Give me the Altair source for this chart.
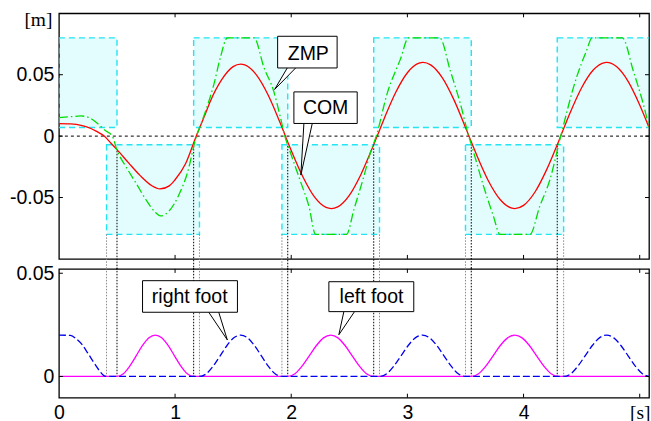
import altair as alt
import pandas as pd

# ---------------- data ----------------
# centre of mass (red) [s], [m]
COM_T = [0.00, 0.10, 0.20, 0.275, 0.32, 0.39, 0.45, 0.50, 0.60, 0.70, 0.80, 0.87, 0.95, 1.00,
         1.09, 1.18, 1.26, 1.30, 1.40, 1.50, 1.565, 1.60, 1.70, 1.80, 1.90, 1.95, 2.00, 2.10,
         2.20, 2.30, 2.345, 2.40, 2.50, 2.60, 2.70, 2.74, 2.80, 2.90, 3.00, 3.10, 3.135, 3.20,
         3.30, 3.40, 3.50, 3.53, 3.60, 3.70, 3.80, 3.90, 3.925, 4.00, 4.10, 4.20, 4.30, 4.32,
         4.40, 4.50, 4.60, 4.70, 4.715, 4.80, 4.90, 5.00, 5.08]
COM_Y = [0.0102, 0.0100, 0.0086, 0.0062, 0.0041, 0.0000, -0.0060, -0.0110, -0.0218, -0.0322,
         -0.0404, -0.0430, -0.0405, -0.0355, -0.0225, -0.0005, 0.0180, 0.0276, 0.0458, 0.0566,
         0.0586, 0.0580, 0.0499, 0.0337, 0.0119, 0.0000, -0.0117, -0.0331, -0.0495, -0.0581,
         -0.0590, -0.0576, -0.0482, -0.0312, -0.0093, 0.0000, 0.0142, 0.0357, 0.0516, 0.0594,
         0.0600, 0.0580, 0.0476, 0.0297, 0.0071, 0.0000, -0.0162, -0.0369, -0.0518, -0.0587,
         -0.0590, -0.0564, -0.0453, -0.0271, -0.0047, 0.0000, 0.0188, 0.0394, 0.0538, 0.0599,
         0.0600, 0.0566, 0.0446, 0.0254, 0.0071]

# zero moment point (green)
ZMP_T = [0.00, 0.10, 0.19, 0.26, 0.33, 0.40, 0.46, 0.50, 0.576, 0.662, 0.748, 0.834, 0.876,
         0.948, 1.034, 1.106, 1.178, 1.235, 1.335, 1.39, 1.45, 1.68, 1.765, 1.851, 1.90, 1.945,
         1.995, 2.08, 2.152, 2.21, 2.476, 2.54, 2.625, 2.68, 2.735, 2.825, 2.94, 3.01, 3.278,
         3.37, 3.456, 3.528, 3.556, 3.656, 3.74, 3.797, 4.055, 4.14, 4.227, 4.32, 4.456, 4.54,
         4.59, 4.85, 4.945, 5.03, 5.08]
ZMP_Y = [0.0151, 0.0158, 0.0164, 0.0150, 0.0105, 0.0045, 0.0000, -0.0115, -0.0247, -0.0380,
         -0.0516, -0.0624, -0.0650, -0.0610, -0.0476, -0.0300, -0.0020, 0.0129, 0.0425, 0.0640,
         0.0800, 0.0800, 0.0559, 0.0360, 0.0180, 0.0000, -0.0140, -0.0370, -0.0570, -0.0800,
         -0.0800, -0.0597, -0.0328, -0.0140, 0.0010, 0.0344, 0.0627, 0.0800, 0.0800, 0.0530,
         0.0264, 0.0000, -0.0086, -0.0409, -0.0650, -0.0800, -0.0800, -0.0570, -0.0355, 0.0000,
         0.0478, 0.0690, 0.0800, 0.0800, 0.0530, 0.0264, 0.0075]

# support polygons (cyan boxes)
RECT_T0 = [0.00, 0.41, 1.16, 1.92, 2.71, 3.50, 4.29]
RECT_T1 = [0.50, 1.21, 1.97, 2.76, 3.55, 4.345, 5.30]
RECT_V0 = [0.007, -0.080, 0.007, -0.080, 0.007, -0.080, 0.007]
RECT_V1 = [0.080, -0.007, 0.080, -0.007, 0.080, -0.007, 0.080]

# dotted phase lines
GRAY_T = [0.41, 1.21, 1.92, 2.76, 3.50, 4.345]
GRAY_V = [-0.080, -0.080, -0.080, -0.080, -0.080, -0.080]
BLACK_T = [0.50, 1.16, 1.97, 2.71, 3.55, 4.29]
BLACK_V = [-0.012, -0.008, -0.008, -0.010, -0.009, -0.008]

# foot heights (bottom panel)
RIGHT_T = [0.00, 0.10, 0.15, 0.20, 0.25, 0.30, 0.35, 0.39, 0.41,
           1.21, 1.269, 1.328, 1.388, 1.447, 1.506, 1.565, 1.624, 1.683, 1.743, 1.802, 1.861, 1.92,
           2.76, 2.822, 2.883, 2.945, 3.007, 3.068, 3.13, 3.192, 3.253, 3.315, 3.377, 3.438, 3.50,
           4.345, 4.407, 4.468, 4.53, 4.592, 4.653, 4.715, 4.777, 4.838, 4.90, 4.962, 5.023, 5.085]
RIGHT_Z = [0.0200, 0.0199, 0.0182, 0.0154, 0.0112, 0.0068, 0.0027, 0.0003, 0.0,
           0.0, 0.0013, 0.0050, 0.0100, 0.0150, 0.0187, 0.0200, 0.0187, 0.0150, 0.0100, 0.0050, 0.0013, 0.0,
           0.0, 0.0013, 0.0050, 0.0100, 0.0150, 0.0187, 0.0200, 0.0187, 0.0150, 0.0100, 0.0050, 0.0013, 0.0,
           0.0, 0.0013, 0.0050, 0.0100, 0.0150, 0.0187, 0.0200, 0.0187, 0.0150, 0.0100, 0.0050, 0.0013, 0.0]
LEFT_T = [0.00, 0.50, 0.555, 0.61, 0.665, 0.72, 0.775, 0.83, 0.885, 0.94, 0.995, 1.05, 1.105, 1.16,
          1.97, 2.032, 2.093, 2.155, 2.217, 2.278, 2.34, 2.402, 2.463, 2.525, 2.587, 2.648, 2.71,
          3.55, 3.6125, 3.675, 3.7375, 3.80, 3.8625, 3.925, 3.9875, 4.05, 4.1125, 4.175, 4.2375, 4.30,
          5.08]
LEFT_Z = [0.0, 0.0, 0.0013, 0.0050, 0.0100, 0.0150, 0.0187, 0.0200, 0.0187, 0.0150, 0.0100, 0.0050, 0.0013, 0.0,
          0.0, 0.0013, 0.0050, 0.0100, 0.0150, 0.0187, 0.0200, 0.0187, 0.0150, 0.0100, 0.0050, 0.0013, 0.0,
          0.0, 0.0013, 0.0050, 0.0100, 0.0150, 0.0187, 0.0200, 0.0187, 0.0150, 0.0100, 0.0050, 0.0013, 0.0,
          0.0]

# callouts: label, box corners, text position, pointer (base-left, tip, base-right)
TOP_LABELS = ["ZMP", "COM"]
TOP_BOX_T0 = [1.883, 2.023]
TOP_BOX_T1 = [2.395, 2.568]
TOP_BOX_V0 = [0.0555, 0.0103]
TOP_BOX_V1 = [0.0813, 0.0360]
TOP_TXT_T = [2.147, 2.296]
TOP_TXT_V = [0.0672, 0.0232]
TOP_PTR_T = [[1.966, 1.857, 2.038], [2.109, 2.083, 2.181]]
TOP_PTR_V = [[0.0555, 0.0380, 0.0555], [0.0103, -0.0317, 0.0103]]

BOT_LABELS = ["right foot", "left foot"]
BOT_BOX_T0 = [0.720, 2.324]
BOT_BOX_T1 = [1.537, 3.055]
BOT_BOX_V0 = [0.0311, 0.0314]
BOT_BOX_V1 = [0.0464, 0.0459]
BOT_TXT_T = [1.126, 2.691]
BOT_TXT_V = [0.0386, 0.0386]
BOT_PTR_T = [[1.290, 1.450, 1.376], [2.453, 2.410, 2.545]]
BOT_PTR_V = [[0.0311, 0.0177, 0.0311], [0.0314, 0.0202, 0.0314]]

# axes
X_MAX = 5.08
Y_TOP_DOMAIN = [-0.1, 0.1]
Y_BOT_DOMAIN = [-0.0103, 0.0521]
X_TICKS = [0, 1, 2, 3, 4, 5]
X_LABELS = ["0", "1", "2", "3", "4", "[s]"]
Y_TOP_TICKS = [-0.05, 0, 0.05]
Y_TOP_LABELS = ["-0.05", "0", "0.05"]
Y_BOT_TICKS = [0, 0.05]
Y_BOT_LABELS = ["0", "0.05"]
ZERO = [0.0]

# ---------------- layout ----------------
W = 591
H_TOP = 246
H_BOT = 129
GAP = 10
FONT = "Liberation Sans"
FS = 19.5
TICK = 4

GAP_TOP = GAP * (Y_TOP_DOMAIN[1] - Y_TOP_DOMAIN[0]) / H_TOP  # gap in top-panel units


def label_expr(vals, labels):
    expr = "''"
    for v, l in reversed(list(zip(vals, labels))):
        expr = f"abs(datum.value - ({v})) < 1e-6 ? '{l}' : ({expr})"
    return expr


xs = alt.Scale(domain=[0, X_MAX], nice=False, zero=False)
ys_top = alt.Scale(domain=Y_TOP_DOMAIN, nice=False, zero=False)
ys_bot = alt.Scale(domain=Y_BOT_DOMAIN, nice=False, zero=False)

ax_top_y = alt.Axis(values=Y_TOP_TICKS, labelExpr=label_expr(Y_TOP_TICKS, Y_TOP_LABELS),
                    ticks=False, domain=False, grid=False, labelFont=FONT, labelFontSize=FS,
                    labelPadding=5, labelColor="black", title="[m]", titleAngle=0, titleX=-21,
                    titleY=12.5, titleAlign="center", titleBaseline="alphabetic",
                    titleFont="Liberation Serif", titleFontSize=FS, titleFontWeight="normal",
                    titleColor="black")
ax_bot_y = alt.Axis(values=Y_BOT_TICKS, labelExpr=label_expr(Y_BOT_TICKS, Y_BOT_LABELS),
                    ticks=False, domain=False, grid=False, labelFont=FONT, labelFontSize=FS,
                    labelPadding=5, labelColor="black", title=None)
ax_bot_x = alt.Axis(values=X_TICKS, labelExpr=label_expr(X_TICKS, X_LABELS), ticks=False,
                    domain=False, grid=False, labelFontSize=FS, labelPadding=6,
                    labelColor="black", labelFlush=False, labelOverlap=False, title=None,
                    labelFont={"condition": {"test": "datum.value == 5", "value": "Liberation Serif"},
                               "value": FONT})


def XT(field="t"):
    return alt.X(f"{field}:Q", scale=xs, axis=None)


def YT(field="v"):
    return alt.Y(f"{field}:Q", scale=ys_top, axis=ax_top_y)


def XB(field="t"):
    return alt.X(f"{field}:Q", scale=xs, axis=ax_bot_x)


def YB(field="v"):
    return alt.Y(f"{field}:Q", scale=ys_bot, axis=ax_bot_y)


# ---------------- tables ----------------
com_df = pd.DataFrame({"t": COM_T, "v": COM_Y})
zmp_df = pd.DataFrame({"t": ZMP_T, "v": ZMP_Y})
rect_df = pd.DataFrame({"t": RECT_T0, "t2": RECT_T1, "v": RECT_V0, "v2": RECT_V1})
zero_df = pd.DataFrame({"v": ZERO})
gray_top = pd.DataFrame({"t": GRAY_T, "v": GRAY_V, "v2": [Y_TOP_DOMAIN[0] - GAP_TOP - 0.001] * len(GRAY_T)})
black_top = pd.DataFrame({"t": BLACK_T, "v": BLACK_V, "v2": [Y_TOP_DOMAIN[0] - GAP_TOP - 0.001] * len(BLACK_T)})
gray_bot = pd.DataFrame({"t": GRAY_T, "v": [Y_BOT_DOMAIN[1] + 0.0005] * len(GRAY_T), "v2": [0.0] * len(GRAY_T)})
black_bot = pd.DataFrame({"t": BLACK_T, "v": [Y_BOT_DOMAIN[1] + 0.0005] * len(BLACK_T), "v2": [0.0] * len(BLACK_T)})
right_df = pd.DataFrame({"t": RIGHT_T, "v": RIGHT_Z})
left_df = pd.DataFrame({"t": LEFT_T, "v": LEFT_Z})


def callout_tables(labels, t0, t1, v0, v1, tt, tv, pt, pv):
    box = pd.DataFrame({"t": t0, "t2": t1, "v": v0, "v2": v1})
    txt = pd.DataFrame({"t": tt, "v": tv, "label": labels})
    rows = []
    for i, lab in enumerate(labels):
        for k in range(3):
            rows.append({"id": lab, "k": k, "t": pt[i][k], "v": pv[i][k]})
    return box, txt, pd.DataFrame(rows)


top_box, top_txt, top_ptr = callout_tables(TOP_LABELS, TOP_BOX_T0, TOP_BOX_T1, TOP_BOX_V0, TOP_BOX_V1,
                                           TOP_TXT_T, TOP_TXT_V, TOP_PTR_T, TOP_PTR_V)
bot_box, bot_txt, bot_ptr = callout_tables(BOT_LABELS, BOT_BOX_T0, BOT_BOX_T1, BOT_BOX_V0, BOT_BOX_V1,
                                           BOT_TXT_T, BOT_TXT_V, BOT_PTR_T, BOT_PTR_V)

xt_df = pd.DataFrame({"t": X_TICKS[1:]})
yt_top_df = pd.DataFrame({"v": Y_TOP_TICKS})
yt_bot_df = pd.DataFrame({"v": Y_BOT_TICKS})

# ---------------- top panel ----------------
rects = alt.Chart(rect_df).mark_rect(fill="#00e5f0", fillOpacity=0.11, stroke="#22e4f2",
                                     strokeDash=[6, 4], strokeWidth=1.4, clip=True).encode(
    x=XT(), x2="t2:Q", y=YT(), y2="v2:Q")
zero = alt.Chart(zero_df).mark_rule(color="black", strokeDash=[3, 3], strokeWidth=1).encode(y=YT())
gray_t = alt.Chart(gray_top).mark_rule(color="#8a8a8a", strokeDash=[1.5, 1.5], strokeWidth=1).encode(
    x=XT(), y=YT(), y2="v2:Q")
black_t = alt.Chart(black_top).mark_rule(color="black", strokeDash=[1.5, 1.5], strokeWidth=1).encode(
    x=XT(), y=YT(), y2="v2:Q")
com = alt.Chart(com_df).mark_line(color="#ff0000", strokeWidth=1.3, interpolate="monotone", clip=True).encode(
    x=XT(), y=YT())
zmp = alt.Chart(zmp_df).mark_line(color="#00dd00", strokeWidth=1.3, strokeDash=[9, 3, 1.5, 3],
                                  interpolate="monotone", clip=True).encode(x=XT(), y=YT())
ptr_t = alt.Chart(top_ptr).mark_line(color="black", strokeWidth=1, fill="white").encode(
    x=XT(), y=YT(), detail="id:N", order="k:Q")
box_t = alt.Chart(top_box).mark_rect(fill="white", stroke="black", strokeWidth=1).encode(
    x=XT(), x2="t2:Q", y=YT(), y2="v2:Q")
txt_t = alt.Chart(top_txt).mark_text(font=FONT, fontSize=FS, color="black", align="center",
                                     baseline="middle").encode(x=XT(), y=YT(), text="label:N")
ytick_l = alt.Chart(yt_top_df).mark_rule(color="black", strokeWidth=1).encode(
    y=YT(), x=alt.value(0), x2=alt.value(TICK))
ytick_r = alt.Chart(yt_top_df).mark_rule(color="black", strokeWidth=1).encode(
    y=YT(), x=alt.value(W - TICK), x2=alt.value(W))
xtick_b = alt.Chart(xt_df).mark_rule(color="black", strokeWidth=1).encode(
    x=XT(), y=alt.value(H_TOP - TICK), y2=alt.value(H_TOP))
xtick_u = alt.Chart(xt_df).mark_rule(color="black", strokeWidth=1).encode(
    x=XT(), y=alt.value(0), y2=alt.value(TICK))

top = alt.layer(rects, zero, gray_t, black_t, com, zmp, ptr_t, box_t, txt_t,
                ytick_l, ytick_r, xtick_b, xtick_u).properties(width=W, height=H_TOP)

# ---------------- bottom panel ----------------
gray_b = alt.Chart(gray_bot).mark_rule(color="#8a8a8a", strokeDash=[1.5, 1.5], strokeWidth=1).encode(
    x=XB(), y=YB(), y2="v2:Q")
black_b = alt.Chart(black_bot).mark_rule(color="black", strokeDash=[1.5, 1.5], strokeWidth=1).encode(
    x=XB(), y=YB(), y2="v2:Q")
left = alt.Chart(left_df).mark_line(color="#ff00ff", strokeWidth=1.3, interpolate="monotone", clip=True).encode(
    x=XB(), y=YB())
right = alt.Chart(right_df).mark_line(color="#0000ee", strokeWidth=1.3, strokeDash=[7, 3],
                                      interpolate="monotone", clip=True).encode(x=XB(), y=YB())
ptr_b = alt.Chart(bot_ptr).mark_line(color="black", strokeWidth=1, fill="white").encode(
    x=XB(), y=YB(), detail="id:N", order="k:Q")
box_b = alt.Chart(bot_box).mark_rect(fill="white", stroke="black", strokeWidth=1).encode(
    x=XB(), x2="t2:Q", y=YB(), y2="v2:Q")
txt_b = alt.Chart(bot_txt).mark_text(font=FONT, fontSize=FS, color="black", align="center",
                                     baseline="middle").encode(x=XB(), y=YB(), text="label:N")
ytick_lb = alt.Chart(yt_bot_df).mark_rule(color="black", strokeWidth=1).encode(
    y=YB(), x=alt.value(0), x2=alt.value(TICK))
ytick_rb = alt.Chart(yt_bot_df).mark_rule(color="black", strokeWidth=1).encode(
    y=YB(), x=alt.value(W - TICK), x2=alt.value(W))
xtick_bb = alt.Chart(xt_df).mark_rule(color="black", strokeWidth=1).encode(
    x=XB(), y=alt.value(H_BOT - TICK), y2=alt.value(H_BOT))
xtick_ub = alt.Chart(xt_df).mark_rule(color="black", strokeWidth=1).encode(
    x=XB(), y=alt.value(0), y2=alt.value(TICK))

bottom = alt.layer(gray_b, black_b, left, right, ptr_b, box_b, txt_b,
                   ytick_lb, ytick_rb, xtick_bb, xtick_ub).properties(width=W, height=H_BOT)

chart = alt.vconcat(top, bottom, spacing=GAP, bounds="flush").properties(
    padding={"left": 8, "top": 8, "right": 0, "bottom": 0},
    background="white",
).configure_view(stroke="black", strokeWidth=1.3).configure_axis(labelFont=FONT)

chart.save("out.html", embed_options={"renderer": "svg", "actions": False})
